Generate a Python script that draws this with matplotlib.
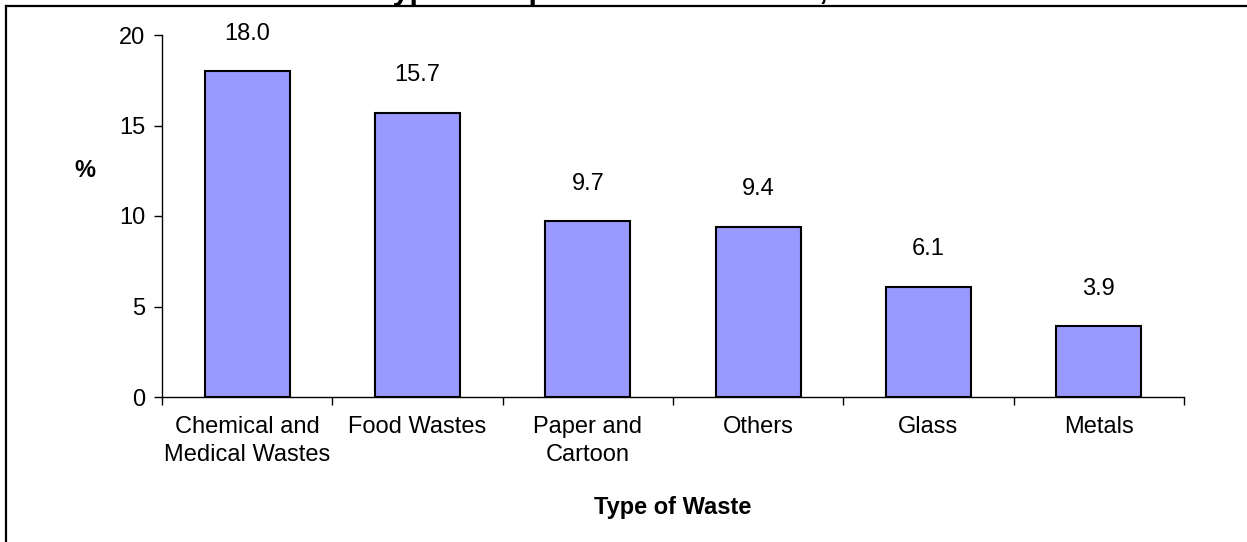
'''Répartition des déchets solides séparés par type'''

import matplotlib
matplotlib.use("Agg")
import matplotlib.pyplot as plt
from matplotlib.lines import Line2D

categories = ["Chemical and\nMedical Wastes", "Food Wastes", "Paper and\nCartoon",
              "Others", "Glass", "Metals"]
valeurs = [18.0, 15.7, 9.7, 9.4, 6.1, 3.9]
graduations = [0, 5, 10, 15, 20]

plt.rcParams['font.family'] = ['Liberation Sans', 'DejaVu Sans']
plt.rcParams['font.size'] = 17

W, H = 1247, 542
fig = plt.figure(figsize=(W / 100, H / 100), dpi=100)
ax = fig.add_axes([162 / W, 1 - 397 / H, (1184 - 162) / W, (397 - 35) / H])

x = list(range(len(categories)))
ax.bar(x, valeurs, width=0.5, color="#9999FF", edgecolor="black", linewidth=1.5, zorder=3)

for xi, v in zip(x, valeurs):
    ax.annotate(f"{v:.1f}", (xi, v), xytext=(0, 19), textcoords="offset points",
                ha="center", va="bottom", fontsize=17)

ax.set_xlim(-0.5, len(categories) - 0.5)
ax.set_ylim(0, 20)
ax.set_yticks(graduations)
ax.set_xticks(x)
ax.set_xticklabels(categories, linespacing=1.3)
ax.set_xticks([i - 0.5 for i in range(len(categories) + 1)], minor=True)
ax.tick_params(axis="x", which="major", length=0, pad=14)
ax.tick_params(axis="x", which="minor", length=6, direction="out", width=1)
ax.tick_params(axis="y", length=6, direction="out", width=1, pad=6)

for cote in ["top", "right"]:
    ax.spines[cote].set_visible(False)
ax.spines["left"].set_linewidth(1)
ax.spines["bottom"].set_linewidth(1)

ax.set_xlabel("Type of Waste", fontweight="bold", fontsize=17, labelpad=22)
ax.text(-0.075, 12.5, "%", transform=ax.get_yaxis_transform(), fontweight="bold",
        fontsize=17, ha="center", va="center")

# titre coupé en haut, comme dans l'original
fig.text(620 / W, 1 + 1 / H, "Type of Separated Solid Waste, %", ha="center",
         va="baseline", fontweight="bold", fontsize=22)

# cadre du graphique (haut et gauche visibles)
fig.add_artist(Line2D([6 / W, 1], [1 - 6 / H, 1 - 6 / H], color="black", linewidth=1.6,
                      transform=fig.transFigure))
fig.add_artist(Line2D([6 / W, 6 / W], [1 - 6 / H, 0], color="black", linewidth=1.6,
                      transform=fig.transFigure))

fig.savefig("out.png", dpi=100)
